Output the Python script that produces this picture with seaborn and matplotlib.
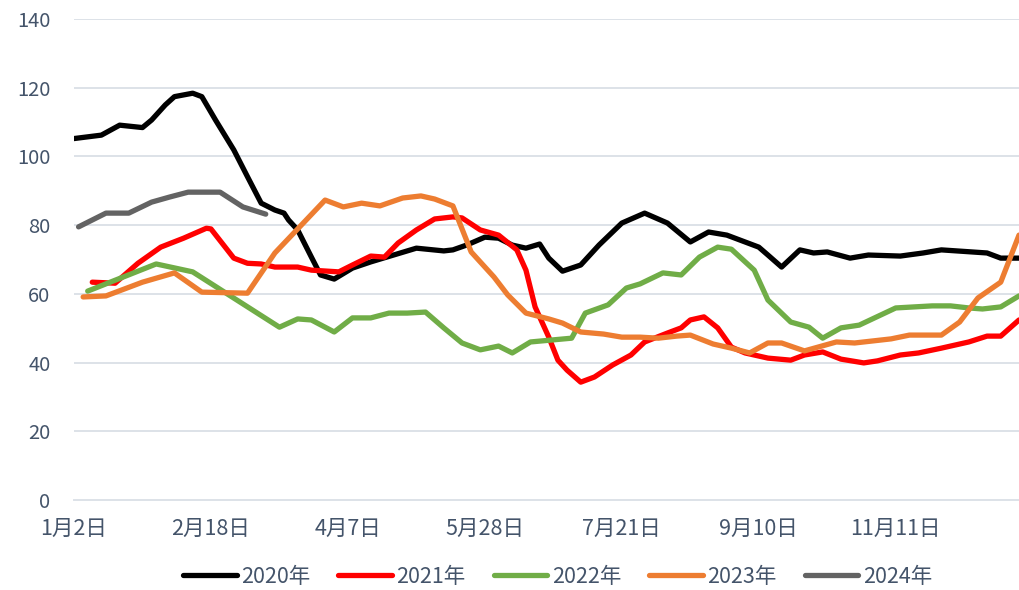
import pandas as pd
import seaborn as sns
import matplotlib.pyplot as plt
from matplotlib.lines import Line2D

sns.set_style('white')
plt.rcParams['font.family'] = ['Noto Sans CJK SC', 'DejaVu Sans']

# x = trading-day index on the category axis
x_2020 = [0, 6, 10, 15, 17, 20, 22, 26, 28, 31, 35, 38, 41, 44, 46, 47, 49, 52, 54, 57,
          61, 65, 70, 75, 81, 83, 86, 90, 93, 96, 99, 102, 104, 107, 111, 115, 120, 125, 130, 135,
          139, 143, 147, 150, 152, 155, 159, 162, 165, 170, 174, 181, 186, 190, 200, 203, 207]
y_2020 = [105.2, 106.2, 109.1, 108.4, 110.6, 115, 117.4, 118.4, 117.4, 110.6,
          101.9, 94.1, 86.4, 84.4, 83.5, 81.5, 78.6, 70.7, 65.5, 64.3,
          67.5, 69.3, 71.3, 73.3, 72.5, 72.8, 74.2, 76.5, 76.2, 74.2,
          73.3, 74.5, 70.4, 66.6, 68.4, 74.2, 80.6, 83.5, 80.6, 75.1,
          78, 77.1, 75.1, 73.6, 71.3, 67.8, 72.8, 71.9, 72.2, 70.4,
          71.3, 71, 71.9, 72.8, 71.9, 70.4, 70.4]

x_2021 = [4, 9, 14, 19, 24, 29, 30, 35, 38, 41, 44, 49, 52, 58, 61, 65, 68, 71, 75, 79,
          83, 85, 89, 93, 97, 99, 101, 104, 106, 108, 111, 114, 118, 122, 125, 130, 133, 135, 138, 141,
          144, 147, 152, 157, 160, 164, 168, 173, 176, 181, 185, 190, 196, 200, 203, 207]
y_2021 = [63.4, 63.1, 68.9, 73.6, 76.2, 79.1, 78.9, 70.4, 68.9, 68.7,
          67.8, 67.8, 66.9, 66.4, 68.4, 71, 70.7, 74.8, 78.6, 81.8,
          82.4, 82.1, 78.6, 77.1, 72.8, 66.9, 56.2, 47.4, 40.7, 37.8,
          34.3, 35.8, 39.3, 42.2, 46, 48.6, 50.1, 52.4, 53.3, 50.1,
          44.5, 42.8, 41.3, 40.7, 42.2, 43.1, 41, 39.9, 40.5, 42.2,
          42.8, 44.2, 46, 47.7, 47.7, 52.4]

x_2022 = [3, 18, 26, 45, 49, 52, 57, 61, 65, 69, 73, 77, 81, 85, 89, 93, 96, 100, 109, 112,
          117, 121, 124, 129, 133, 137, 141, 144, 149, 152, 157, 161, 164, 168, 172, 180, 188, 192, 196, 199,
          203, 207]
y_2022 = [60.8, 68.7, 66.4, 50.3, 52.7, 52.4, 48.9, 53, 53, 54.4,
          54.4, 54.7, 50.1, 45.7, 43.7, 44.8, 42.8, 46, 47.1, 54.4,
          56.8, 61.7, 62.9, 66.1, 65.5, 70.7, 73.6, 73, 66.9, 58.2,
          51.8, 50.3, 47.1, 50.1, 50.9, 55.9, 56.5, 56.5, 55.9, 55.6,
          56.2, 59.4]

x_2023 = [2, 7, 15, 22, 28, 38, 44, 55, 59, 63, 67, 72, 76, 79, 83, 87, 92, 95, 99, 104,
          107, 111, 116, 120, 124, 128, 132, 135, 140, 144, 148, 152, 155, 160, 167, 171, 179, 183, 190, 194,
          198, 203, 207]
y_2023 = [59.1, 59.4, 63.4, 66.1, 60.5, 60.2, 71.9, 87.3, 85.3, 86.4,
          85.6, 87.9, 88.5, 87.6, 85.6, 72.2, 64.9, 59.7, 54.4, 52.7,
          51.5, 48.9, 48.3, 47.4, 47.4, 47.1, 47.7, 48, 45.4, 44.2,
          42.8, 45.7, 45.7, 43.4, 46, 45.7, 46.9, 48, 48, 51.8,
          58.8, 63.4, 77.1]

x_2024 = [1, 7, 12, 17, 21, 25, 32, 37, 42]
y_2024 = [79.5, 83.5, 83.5, 86.7, 88.2, 89.6, 89.6, 85.3, 83.2]

years = ['2020年', '2021年', '2022年', '2023年', '2024年']
colors = ['#000000', '#FF0000', '#70AD47', '#ED7D31', '#636363']

tick_pos = [0, 30, 60, 90, 120, 150, 180]
tick_labels = ['1月2日', '2月18日', '4月7日', '5月28日', '7月21日', '9月10日', '11月11日']

frames = []
for name, xs, ys in zip(years, [x_2020, x_2021, x_2022, x_2023, x_2024],
                        [y_2020, y_2021, y_2022, y_2023, y_2024]):
    frames.append(pd.DataFrame({'idx': xs, 'value': ys, 'year': name}))
df = pd.concat(frames, ignore_index=True)

text_color = '#44546A'
grid_color = '#DDE2E8'

fig = plt.figure(figsize=(10.19, 5.90), dpi=100)
ax = fig.add_axes([74 / 1019, 1 - 500 / 590, 945 / 1019, 481 / 590])

sns.lineplot(data=df, x='idx', y='value', hue='year', palette=dict(zip(years, colors)),
             estimator=None, sort=False, linewidth=3.8, legend=False, ax=ax)

ax.set_xlim(0, 207)
ax.set_ylim(0, 140)
ax.set_yticks(range(0, 141, 20))
ax.yaxis.grid(True, color=grid_color, linewidth=1.4)
ax.set_axisbelow(True)
for s in ['top', 'right', 'left']:
    ax.spines[s].set_visible(False)
ax.spines['bottom'].set_color(grid_color)
ax.spines['bottom'].set_linewidth(1.4)

ax.set_xticks(tick_pos)
ax.set_xticklabels(tick_labels)
ax.set_xticks([0, 100, 200], minor=True)
ax.tick_params(axis='x', which='major', length=0, pad=13, labelsize=15.5, labelcolor=text_color)
ax.tick_params(axis='x', which='minor', length=5, width=1.4, color=grid_color, direction='out')
ax.tick_params(axis='y', length=0, pad=17, labelsize=14.5, labelcolor=text_color)
ax.set_xlabel('')
ax.set_ylabel('')

handles = [Line2D([0], [0], color=c, linewidth=3.8) for c in colors]
fig.legend(handles, years, loc='center', bbox_to_anchor=(0.547, 0.022), ncol=5,
           frameon=False, fontsize=15.5, handlelength=2.5, handletextpad=0.2,
           columnspacing=1.3, labelcolor=text_color)

fig.savefig('out.png', dpi=100)
